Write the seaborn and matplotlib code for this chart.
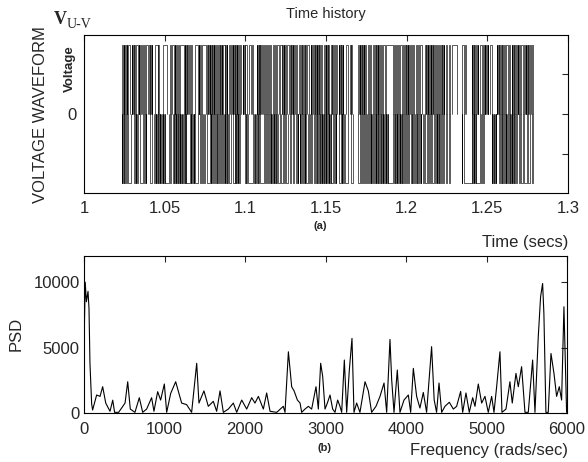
import matplotlib
matplotlib.use("Agg")
import matplotlib.pyplot as plt
import pandas as pd
import seaborn as sns

# switching instants of V(U-V), in ms after t = 1 s
up_edges_ms = [
    23.6, 24.0, 24.5, 24.9, 25.6, 26.0, 26.4, 26.9, 27.4, 28.5, 29.5, 29.9, 30.3, 30.8, 31.2, 31.6, 32.0,
    33.3, 33.8, 34.3, 34.7, 35.2, 35.7, 36.3, 37.0, 37.7, 38.4, 39.9, 40.3, 40.7, 41.1, 41.5, 41.9, 42.3,
    44.0, 45.7, 46.1, 46.6, 49.2, 51.2, 53.4, 54.1, 54.8, 55.5, 56.1, 56.6, 57.2, 57.8, 58.3, 58.9, 59.5,
    62.0, 62.4, 62.8, 63.2, 63.6, 64.0, 64.4, 64.8, 65.5, 66.2, 66.9, 68.8, 70.5, 71.0, 71.5, 72.0, 72.6,
    73.2, 75.8, 76.2, 76.6, 77.0, 77.5, 77.9, 78.3, 78.7, 79.1, 79.5, 79.9, 80.3, 80.7, 81.1, 81.8, 82.5,
    83.3, 83.7, 84.1, 84.5, 84.9, 85.3, 85.7, 86.4, 87.2, 87.6, 88.0, 88.4, 88.8, 89.7, 90.5, 91.0, 91.6,
    92.1, 92.6, 93.0, 93.4, 93.8, 94.2, 94.6, 95.0, 95.5, 95.9, 96.4, 97.5, 98.3, 98.7, 99.1, 99.5, 99.9,
    101.0, 102.5, 103.3, 104.1, 104.9, 107.0, 107.4, 107.8, 108.2, 108.6, 109.0, 109.4, 109.8, 110.3,
    110.8, 111.4, 112.0, 112.6, 113.2, 114.0, 114.7, 115.5, 116.2, 116.9, 117.7, 118.4, 119.1, 119.9,
    120.6, 121.4, 122.5, 122.9, 123.3, 123.8, 124.2, 124.7, 125.2, 125.6, 126.8, 127.5, 128.1, 128.5,
    128.9, 129.4, 129.8, 130.3, 130.8, 131.7, 132.3, 133.2, 133.8, 134.5, 135.0, 135.4, 135.8, 136.3,
    136.7, 137.1, 137.6, 138.0, 139.2, 140.5, 140.9, 141.4, 141.9, 142.4, 142.9, 143.4, 143.8, 144.2,
    144.6, 145.0, 145.4, 145.9, 146.3, 147.0, 147.8, 148.5, 149.2, 149.7, 150.1, 150.6, 151.0, 151.5,
    151.9, 152.8, 153.5, 154.0, 154.4, 154.9, 155.4, 156.3, 157.0, 157.8, 158.3, 158.7, 159.1, 159.6,
    160.0, 160.4, 160.8, 162.2, 163.5, 164.9, 165.3, 165.8, 166.3, 170.1, 170.5, 170.9, 171.3, 171.7,
    172.1, 172.5, 172.9, 173.3, 173.8, 174.2, 175.0, 175.8, 176.5, 177.3, 178.1, 178.9, 179.6, 180.4,
    180.8, 181.2, 181.6, 182.0, 182.5, 182.9, 183.4, 184.1, 184.9, 185.6, 186.3, 187.0, 191.8, 192.2,
    192.7, 193.2, 193.7, 194.5, 195.3, 196.0, 196.8, 197.6, 198.3, 199.0, 199.4, 199.8, 200.2, 200.7,
    201.1, 201.6, 202.1, 202.6, 203.1, 203.9, 204.7, 205.5, 206.2, 207.0, 207.8, 208.5, 209.3, 211.4,
    211.8, 212.2, 212.6, 213.0, 213.5, 213.9, 214.3, 214.8, 215.2, 215.6, 216.1, 216.5, 216.9, 217.4,
    218.1, 218.9, 219.6, 220.3, 220.7, 221.1, 221.6, 222.0, 222.5, 222.9, 223.4, 224.3, 225.2, 226.0,
    226.8, 228.0, 231.0, 234.5, 235.5, 236.3, 237.0, 240.2, 240.6, 241.0, 241.5, 242.0, 242.5, 243.0,
    243.5, 244.0, 244.4, 245.5, 246.6, 247.5, 247.9, 248.3, 248.8, 249.2, 249.7, 250.2, 250.6, 251.8,
    253.0, 255.7, 256.1, 256.6, 257.0, 257.5, 258.0, 258.4, 258.9, 259.4, 259.9, 260.4, 260.9, 261.7,
    262.5, 263.3, 264.1, 265.0, 265.4, 265.8, 266.3, 266.7, 267.2, 267.7, 268.2, 268.7, 269.2, 269.7,
    270.2, 271.0, 271.8, 272.6, 273.3, 273.7, 274.1, 274.6, 275.0, 275.5, 276.0, 276.5, 277.0, 277.5,
    278.0,
]
dn_edges_ms = [
    23.4, 23.8, 24.2, 24.6, 25.0, 25.4, 26.1, 26.8, 27.5, 29.4, 31.2, 31.6, 32.0, 32.5, 32.9, 33.3, 35.0,
    36.8, 37.2, 37.7, 38.2, 38.7, 40.9, 42.2, 43.6, 44.0, 44.4, 44.9, 45.3, 45.7, 46.1, 46.5, 47.0, 47.4,
    47.8, 48.2, 48.7, 49.1, 49.5, 50.0, 50.5, 52.8, 53.5, 54.2, 54.9, 55.6, 56.0, 56.4, 56.8, 57.2, 57.6,
    58.1, 58.5, 58.9, 59.3, 59.7, 60.2, 60.6, 61.0, 61.4, 61.8, 62.3, 62.7, 63.1, 63.5, 65.7, 66.1, 66.6,
    67.0, 67.5, 67.9, 68.4, 68.8, 70.9, 71.6, 72.3, 73.0, 73.7, 74.5, 75.2, 76.0, 78.1, 78.5, 79.0, 79.6,
    80.1, 80.5, 81.1, 81.7, 82.2, 82.6, 83.2, 83.8, 84.3, 84.8, 85.4, 86.0, 86.6, 87.1, 87.5, 88.0, 88.4,
    88.9, 89.3, 89.8, 90.9, 92.2, 93.3, 93.7, 94.1, 94.5, 94.9, 95.3, 95.7, 96.1, 96.5, 99.8, 100.2,
    100.7, 101.1, 101.6, 105.0, 105.4, 105.8, 106.3, 106.7, 107.1, 107.6, 108.0, 108.4, 108.9, 111.3,
    112.0, 112.7, 113.4, 114.1, 114.8, 115.4, 115.8, 116.2, 116.7, 117.1, 117.5, 118.0, 118.4, 118.8,
    119.3, 119.7, 120.2, 121.5, 122.3, 123.1, 123.9, 124.7, 125.5, 126.5, 127.7, 128.4, 129.6, 130.3,
    131.5, 132.0, 132.5, 132.9, 133.6, 134.0, 134.5, 135.2, 135.6, 136.1, 136.8, 137.2, 137.7, 138.6,
    139.4, 140.1, 140.9, 141.6, 142.4, 143.1, 143.9, 144.3, 144.7, 145.1, 145.6, 146.0, 146.4, 146.9,
    147.3, 147.7, 148.2, 148.6, 149.0, 149.5, 149.9, 150.3, 150.8, 151.2, 151.6, 152.1, 152.5, 153.0,
    153.4, 154.6, 155.0, 155.5, 155.9, 156.4, 158.0, 159.3, 159.7, 160.2, 160.6, 161.1, 161.6, 163.6,
    165.5, 167.0, 170.1, 170.8, 171.5, 172.2, 173.0, 173.7, 174.4, 174.9, 175.5, 176.0, 176.6, 177.1,
    177.7, 178.2, 178.8, 179.3, 179.9, 180.4, 180.8, 181.2, 181.7, 182.1, 182.5, 183.0, 183.4, 183.8,
    184.3, 184.7, 185.1, 185.6, 186.0, 186.4, 186.9, 187.3, 187.7, 188.2, 188.6, 191.8, 192.2, 192.6,
    193.0, 193.5, 193.9, 194.3, 194.8, 195.2, 195.6, 196.1, 196.5, 196.9, 197.4, 197.8, 198.2, 198.7,
    199.5, 200.2, 201.0, 201.7, 202.5, 203.2, 203.6, 204.1, 204.6, 205.1, 205.6, 206.1, 206.6, 207.1,
    207.6, 208.1, 208.6, 209.1, 210.0, 210.8, 211.5, 212.3, 213.0, 213.8, 214.5, 215.3, 216.0, 216.8,
    217.5, 218.2, 218.6, 219.0, 219.4, 219.8, 220.2, 220.6, 221.3, 222.0, 222.7, 223.4, 224.3, 225.2,
    226.1, 227.0, 234.0, 234.6, 235.5, 240.2, 240.6, 241.0, 241.5, 241.9, 242.3, 242.8, 243.2, 245.4,
    246.1, 246.8, 247.5, 248.2, 252.6, 253.0, 253.4, 253.9, 254.3, 254.8, 255.2, 255.6, 257.0, 257.9,
    258.7, 258.9, 259.3, 259.8, 260.3, 260.8, 261.3, 261.8, 262.3, 262.8, 263.3, 263.8, 264.2, 264.6,
    265.0, 265.5, 265.9, 266.4, 266.8, 267.3, 267.7, 268.5, 269.4, 270.2, 271.1, 271.9, 273.0, 274.3,
    275.5, 276.6, 277.4, 278.0,
]
v_dc = 350

# power spectral density of the waveform
freq = [0, 15, 30, 50, 62, 74, 95, 107, 157, 199, 232, 270, 323, 357, 380, 430, 510, 543, 575, 633,
        687, 729, 778, 840, 869, 915, 952, 998, 1027, 1077, 1139, 1213, 1275, 1337, 1400, 1428, 1490,
        1544, 1606, 1648, 1690, 1731, 1793, 1855, 1897, 1959, 2021, 2083, 2124, 2166, 2228, 2269, 2311,
        2394, 2476, 2497, 2539, 2580, 2609, 2651, 2684, 2704, 2745, 2787, 2828, 2882, 2911, 2940, 2965,
        2994, 3023, 3056, 3089, 3118, 3151, 3180, 3201, 3234, 3263, 3296, 3329, 3354, 3387, 3428, 3491,
        3532, 3573, 3627, 3677, 3727, 3760, 3801, 3822, 3851, 3892, 3925, 3975, 4029, 4058, 4091, 4132,
        4173, 4215, 4256, 4318, 4350, 4380, 4410, 4443, 4484, 4538, 4588, 4629, 4679, 4704, 4745, 4786,
        4828, 4857, 4898, 4940, 4981, 5022, 5064, 5093, 5126, 5167, 5192, 5242, 5291, 5320, 5366, 5395,
        5436, 5478, 5519, 5573, 5602, 5643, 5672, 5697, 5713, 5738, 5767, 5801, 5838, 5871, 5904, 5933,
        5962, 5979, 5995]
psd = [5000, 10000, 8500, 9300, 8000, 3800, 700, 230, 1375, 1270, 2010, 760, 130, 980, 50, 50, 760,
       2390, 300, 50, 1170, 50, 300, 1170, 130, 1630, 990, 2216, 50, 1500, 2390, 760, 640, 50, 3800,
       760, 1690, 510, 890, 130, 1690, 50, 300, 760, 50, 990, 300, 1170, 760, 1270, 300, 1530, 130, 50,
       510, 50, 4680, 2000, 1700, 990, 760, 50, 300, 510, 300, 2010, 300, 3800, 2800, 300, 760, 1375,
       300, 50, 990, 510, 50, 4050, 50, 3285, 5700, 50, 760, 50, 2390, 1690, 50, 510, 1270, 2290, 50,
       5625, 2550, 50, 3285, 50, 990, 1375, 50, 3410, 1270, 380, 1570, 50, 5070, 1000, 50, 2290, 50,
       510, 820, 300, 510, 1650, 50, 1530, 50, 1170, 510, 2216, 760, 1270, 50, 1270, 50, 2010, 4680,
       50, 300, 2390, 760, 3030, 2010, 3540, 50, 50, 4050, 50, 5830, 8890, 9900, 7600, 50, 50, 4550,
       3030, 1270, 2010, 990, 8120, 3800, 50]


def pulse_frame(edges_ms, level, tag):
    # each consecutive pair of edges is one pulse: 0 -> level -> 0
    rows = []
    for i in range(0, len(edges_ms) - 1, 2):
        t0 = 1 + edges_ms[i] / 1000
        t1 = 1 + edges_ms[i + 1] / 1000
        for t, v in [(t0, 0), (t0, level), (t1, level), (t1, 0)]:
            rows.append({"t": t, "v": v, "pulse": f"{tag}{i}"})
    return pd.DataFrame(rows)


sns.set_theme(style="white")
plt.rcParams["font.family"] = ["Liberation Sans", "DejaVu Sans"]
plt.rcParams["axes.edgecolor"] = "black"
plt.rcParams["axes.linewidth"] = 0.8

fig = plt.figure(figsize=(5.88, 4.62), dpi=100)
ax1 = fig.add_axes([84 / 588, 1 - 193 / 462, 484 / 588, 158 / 462])
ax2 = fig.add_axes([84 / 588, 1 - 413 / 462, 483 / 588, 157 / 462])

wave = pd.concat([pulse_frame(up_edges_ms, v_dc, "u"), pulse_frame(dn_edges_ms, -v_dc, "d")])
sns.lineplot(data=wave, x="t", y="v", units="pulse", estimator=None, sort=False,
             color="black", lw=0.45, ax=ax1, legend=False)

ax1.set_xlim(1, 1.3)
ax1.set_ylim(-400, 400)
ax1.set_xticks([1, 1.05, 1.1, 1.15, 1.2, 1.25, 1.3])
ax1.set_xticklabels(["1", "1.05", "1.1", "1.15", "1.2", "1.25", "1.3"])
ax1.set_yticks([-200, 0, 200])
ax1.set_yticklabels(["", "0", ""])
ax1.set_xlabel("")
ax1.set_ylabel("")
ax1.tick_params(axis="x", direction="in", top=True, length=4, width=0.8, labelsize=12, pad=6)
ax1.tick_params(axis="y", direction="in", right=True, length=4, width=0.8, labelsize=12, pad=5)

sns.lineplot(x=freq, y=psd, color="black", lw=0.8, estimator=None, ax=ax2)
ax2.set_xlim(0, 6000)
ax2.set_ylim(0, 12000)
ax2.set_xticks([0, 1000, 2000, 3000, 4000, 5000, 6000])
ax2.set_yticks([0, 5000, 10000])
ax2.tick_params(axis="x", direction="in", top=True, length=4, width=0.8, labelsize=12, pad=6.5)
ax2.tick_params(axis="y", direction="in", right=True, length=4, width=0.8, labelsize=12, pad=3)

for ax in (ax1, ax2):
    for s in ax.spines.values():
        s.set_visible(True)
        s.set_color("black")
        s.set_linewidth(0.8)

fig.text(326 / 588, 1 - 14 / 462, "Time history", ha="center", va="center", fontsize=10.5)
fig.text(568 / 588, 1 - 243 / 462, "Time (secs)", ha="right", va="center", fontsize=12)
fig.text(320 / 588, 1 - 226 / 462, "(a)", ha="center", va="center", fontsize=8, fontweight="bold")
fig.text(41 / 588, 1 - 115 / 462, "VOLTAGE WAVEFORM", rotation=90, ha="center", va="center", fontsize=12)
fig.text(60 / 588, 1 - 19 / 462, "V", ha="center", va="center", fontsize=13,
         family="Liberation Serif", fontweight="bold")
fig.text(79 / 588, 1 - 24 / 462, "U-V", ha="center", va="center", fontsize=10, family="Liberation Serif")
fig.text(70 / 588, 1 - 69 / 462, "Voltage", rotation=90, ha="center", va="center", fontsize=9.5,
         fontweight="bold")

fig.text(16 / 588, 1 - 334 / 462, "PSD", rotation=90, ha="center", va="center", fontsize=12)
fig.text(325 / 588, 1 - 448 / 462, "(b)", ha="center", va="center", fontsize=8, fontweight="bold")
fig.text(568 / 588, 1 - 450 / 462, "Frequency (rads/sec)", ha="right", va="center", fontsize=12)

fig.savefig("out.png", dpi=100)
